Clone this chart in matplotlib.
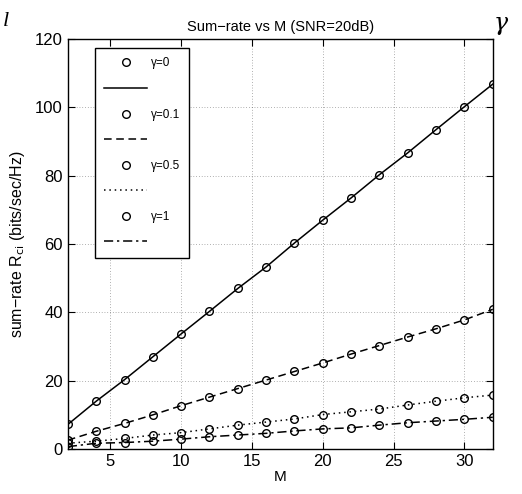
import matplotlib.pyplot as plt
from matplotlib.lines import Line2D

plt.rcParams['font.family'] = ['Liberation Sans', 'DejaVu Sans']

# number of antennas
M = [2, 4, 6, 8, 10, 12, 14, 16, 18, 20, 22, 24, 26, 28, 30, 32]

# sum-rate per gamma (bits/sec/Hz)
rate_g0 = [7.2, 14.0, 20.3, 27.0, 33.7, 40.3, 47.0, 53.3, 60.3, 67.0, 73.5, 80.3, 86.7, 93.5, 100.2, 106.8]
rate_g01 = [2.6, 5.2, 7.5, 10.0, 12.7, 15.2, 17.7, 20.2, 22.7, 25.2, 27.8, 30.3, 32.8, 35.2, 37.8, 40.9]
rate_g05 = [1.7, 2.3, 3.1, 4.1, 4.8, 5.9, 7.0, 7.9, 8.8, 10.1, 10.9, 11.7, 12.9, 14.0, 15.0, 15.8]
rate_g1 = [0.7, 1.7, 1.9, 2.3, 2.9, 3.6, 4.1, 4.6, 5.3, 5.9, 6.2, 7.0, 7.7, 8.2, 8.7, 9.3]

gamma_labels = ['γ=0', 'γ=0.1', 'γ=0.5', 'γ=1']
line_styles = ['-', (0, (5, 3)), (0, (1, 2.5)), (0, (6, 2.5, 1.5, 2.5))]

fig = plt.figure(figsize=(5.22, 4.94), dpi=100)
ax = fig.add_axes([0.130, 0.091, 0.814, 0.830])

handles = []
labels = []
for rates, lab, ls in zip([rate_g0, rate_g01, rate_g05, rate_g1], gamma_labels, line_styles):
    ax.plot(M, rates, linestyle='none', marker='o', markersize=5.5,
            markerfacecolor='none', markeredgecolor='black', markeredgewidth=1.0)
    ax.plot(M, rates, linestyle=ls, color='black', linewidth=1.1)
    handles.append(Line2D([], [], linestyle='none', marker='o', markersize=5.5,
                          markerfacecolor='none', markeredgecolor='black', markeredgewidth=1.0))
    labels.append(lab)
    handles.append(Line2D([], [], linestyle=ls, color='black', linewidth=1.1))
    labels.append(' ')

ax.set_xlim(2, 32)
ax.set_ylim(0, 120)
ax.set_xticks([5, 10, 15, 20, 25, 30])
ax.set_yticks([0, 20, 40, 60, 80, 100, 120])
ax.tick_params(direction='in', top=True, right=True, labelsize=12, length=5, width=0.8)
ax.grid(True, linestyle=(0, (1, 3)), color='black', linewidth=0.5, alpha=0.6)
for s in ax.spines.values():
    s.set_linewidth(1.0)

ax.set_title('Sum\u2212rate vs M (SNR=20dB)', fontsize=10.5, pad=6)
ax.set_xlabel('M', fontsize=11, labelpad=1)
ax.set_ylabel('sum\u2212rate R$_{\\mathrm{ci}}$ (bits/sec/Hz)', fontsize=11.5, labelpad=6)

leg = ax.legend(handles, labels, loc='upper left', bbox_to_anchor=(0.064, 0.978),
                borderaxespad=0, fontsize=8.5, handlelength=3.6, handletextpad=0.3,
                labelspacing=1.15, borderpad=0.8, fancybox=False, framealpha=1,
                edgecolor='black')
leg.get_frame().set_linewidth(1.0)

# stray glyphs visible at the edges of the crop
fig.text(0.005, 0.975, 'l', fontsize=16, family='Liberation Serif', style='italic', va='top')
fig.text(0.945, 0.975, 'γ', fontsize=17, family='DejaVu Serif', style='italic', va='top')

fig.savefig('out.png', dpi=100)
